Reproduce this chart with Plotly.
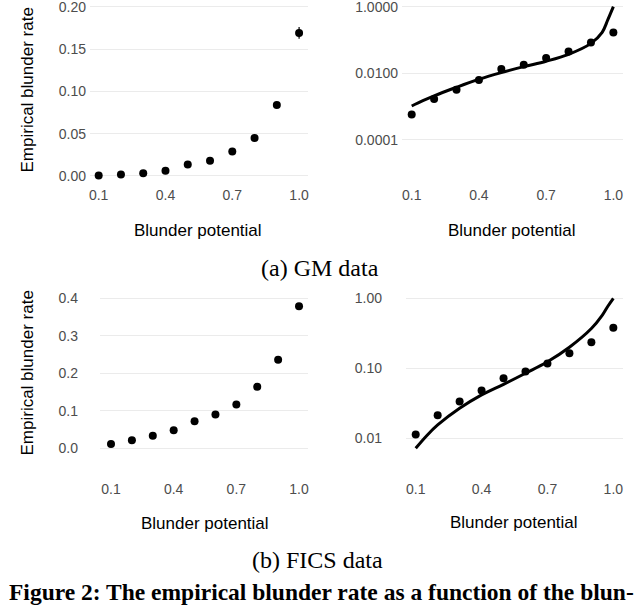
import plotly.graph_objects as go

W, H = 640, 605

# ---------------- data ----------------
potential = [0.1, 0.2, 0.3, 0.4, 0.5, 0.6, 0.7, 0.8, 0.9, 1.0]
gm_rate = [0.00058, 0.0017, 0.0032, 0.0063, 0.0135, 0.018, 0.029, 0.045, 0.084, 0.169]
gm_err = [0, 0, 0, 0, 0, 0, 0, 0, 0.0015, 0.007]
fics_rate = [0.0113, 0.0213, 0.0335, 0.048, 0.072, 0.090, 0.117, 0.164, 0.236, 0.379]

fit_x = [0.1, 0.15, 0.2, 0.3, 0.4, 0.5, 0.6, 0.7, 0.8, 0.9, 0.95, 0.975, 1.0]
gm_fit = [0.00104, 0.0015, 0.0021, 0.0038, 0.0066, 0.0105, 0.0158, 0.023, 0.037, 0.079, 0.17, 0.40, 1.0]
fics_fit = [0.0072, 0.0109, 0.0155, 0.0268, 0.0417, 0.059, 0.085, 0.124, 0.20, 0.37, 0.575, 0.77, 1.0]

x_ticks = [0.1, 0.4, 0.7, 1.0]
x_tick_labels = ["0.1", "0.4", "0.7", "1.0"]
gm_lin_ticks = [0.0, 0.05, 0.10, 0.15, 0.20]
gm_lin_labels = ["0.00", "0.05", "0.10", "0.15", "0.20"]
gm_log_ticks = [0.0001, 0.01, 1.0]
gm_log_labels = ["0.0001", "0.0100", "1.0000"]
fics_lin_ticks = [0.0, 0.1, 0.2, 0.3, 0.4]
fics_lin_labels = ["0.0", "0.1", "0.2", "0.3", "0.4"]
fics_log_ticks = [0.01, 0.1, 1.0]
fics_log_labels = ["0.01", "0.10", "1.00"]

x_title = "Blunder potential"
y_title = "Empirical blunder rate"
cap_a = "(a) GM data"
cap_b = "(b) FICS data"
fig_caption = "Figure 2: The empirical blunder rate as a function of the blun-"

# ---------------- helpers for layout placement ----------------
def px(x):
    return x / W

def py(y):
    return 1 - y / H

SANS = "Liberation Sans, Arial, Helvetica, sans-serif"
SERIF = "Liberation Serif, Times New Roman, serif"
TICK_COLOR = "#4d4d4d"
GRID = "#ebebeb"

fig = go.Figure()

dot = dict(color="black", size=8)

# panel 1: GM linear
fig.add_trace(go.Scatter(x=potential, y=gm_rate, mode="markers", marker=dot,
                         error_y=dict(type="data", array=gm_err, color="black", thickness=1.2, width=0),
                         xaxis="x", yaxis="y", showlegend=False))
# panel 2: GM log + fit
fig.add_trace(go.Scatter(x=fit_x, y=gm_fit, mode="lines", line=dict(color="black", width=3, shape="spline"),
                         xaxis="x2", yaxis="y2", showlegend=False))
fig.add_trace(go.Scatter(x=potential, y=gm_rate, mode="markers", marker=dot,
                         xaxis="x2", yaxis="y2", showlegend=False))
# panel 3: FICS linear
fig.add_trace(go.Scatter(x=potential, y=fics_rate, mode="markers", marker=dot,
                         xaxis="x3", yaxis="y3", showlegend=False))
# panel 4: FICS log + fit
fig.add_trace(go.Scatter(x=fit_x, y=fics_fit, mode="lines", line=dict(color="black", width=3, shape="spline"),
                         xaxis="x4", yaxis="y4", showlegend=False))
fig.add_trace(go.Scatter(x=potential, y=fics_rate, mode="markers", marker=dot,
                         xaxis="x4", yaxis="y4", showlegend=False))


def xaxis(dom, rng, anchor, standoff):
    return dict(domain=[px(dom[0]), px(dom[1])], range=rng, anchor=anchor,
                tickvals=x_ticks, ticktext=x_tick_labels, showgrid=False, zeroline=False,
                showline=False, ticks="", ticklabelstandoff=standoff, automargin=False,
                ticklabeloverflow="allow",
                tickfont=dict(family=SANS, size=14, color=TICK_COLOR))


def yaxis(dom, rng, anchor, tv, tt, standoff, log=False):
    d = dict(domain=[py(dom[1]), py(dom[0])], range=rng, anchor=anchor,
             tickvals=tv, ticktext=tt, showgrid=True, gridcolor=GRID, gridwidth=1,
             zeroline=False, showline=False, ticks="", ticklabelstandoff=standoff, automargin=False,
             ticklabeloverflow="allow",
             tickfont=dict(family=SANS, size=14, color=TICK_COLOR))
    if log:
        d["type"] = "log"
    return d


layout = dict(
    width=W, height=H, margin=dict(l=0, r=0, t=0, b=0, autoexpand=False),
    paper_bgcolor="white", plot_bgcolor="white",
    xaxis=xaxis((90, 308), [0.061, 1.040], "y", 3),
    yaxis=yaxis((0, 182), [-0.0071, 0.2079], "x", gm_lin_ticks, gm_lin_labels, 3),
    xaxis2=xaxis((402, 623), [0.0567, 1.043], "y2", 3),
    yaxis2=yaxis((0, 182), [-5.264, 0.2], "x2", gm_log_ticks, gm_log_labels, 3, log=True),
    xaxis3=xaxis((100, 308), [0.0473, 1.043], "y3", 3),
    yaxis3=yaxis((290, 476), [-0.0739, 0.4221], "x3", fics_lin_ticks, fics_lin_labels, 21),
    xaxis4=xaxis((406, 623), [0.0558, 1.044], "y4", 3),
    yaxis4=yaxis((290, 476), [-2.539, 0.1186], "x4", fics_log_ticks, fics_log_labels, 23, log=True),
)
fig.update_layout(**layout)

ann = []
title_font = dict(family=SANS, size=17, color="black")
for (xc, yc) in [(198, 230), (512, 230), (205, 523), (514, 522)]:
    ann.append(dict(text=x_title, x=px(xc), y=py(yc), xref="paper", yref="paper",
                    xanchor="center", yanchor="middle", showarrow=False, font=title_font))
for yc in [90.5, 373.5]:
    ann.append(dict(text=y_title, x=px(27), y=py(yc), xref="paper", yref="paper", textangle=-90,
                    xanchor="center", yanchor="middle", showarrow=False, font=title_font))
ann.append(dict(text=cap_a, x=px(320), y=py(268), xref="paper", yref="paper",
                xanchor="center", yanchor="middle", showarrow=False,
                font=dict(family=SERIF, size=24, color="black")))
ann.append(dict(text=cap_b, x=px(317), y=py(560), xref="paper", yref="paper",
                xanchor="center", yanchor="middle", showarrow=False,
                font=dict(family=SERIF, size=24, color="black")))
ann.append(dict(text="<b>" + fig_caption + "</b>", x=px(321), y=py(592), xref="paper", yref="paper",
                xanchor="center", yanchor="middle", showarrow=False,
                font=dict(family=SERIF, size=23.5, color="black")))
fig.update_layout(annotations=ann)

fig.write_html("out.html", config={"displayModeBar": False},
               post_script="document.body.style.margin='0px';document.body.style.overflow='hidden';")
